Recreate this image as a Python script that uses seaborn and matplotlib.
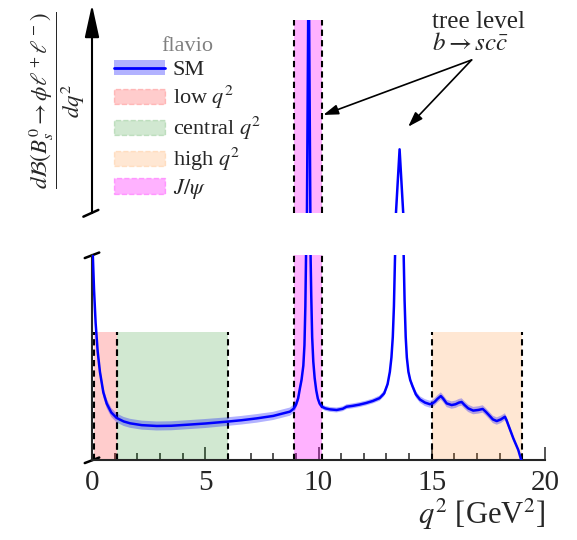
import numpy as np
import pandas as pd
import matplotlib
matplotlib.use("Agg")
import matplotlib.pyplot as plt
from matplotlib.patches import Patch
from matplotlib.lines import Line2D
from matplotlib.legend_handler import HandlerTuple
import seaborn as sns

sns.set_style("ticks")
plt.rcParams["font.family"] = ["Liberation Serif", "DejaVu Serif"]
plt.rcParams["mathtext.fontset"] = "stix"

# ---------------- data ----------------
q2 = [0.02, 0.09, 0.16, 0.25, 0.35, 0.5, 0.65, 0.85, 1.09, 1.4, 1.68, 2.2,
      2.86, 3.5, 4.33, 5.0, 5.95, 6.6, 7.27, 8.0, 8.74, 8.9, 9.0, 9.1, 9.18,
      9.25, 9.33, 9.38, 9.42, 9.45, 9.49, 9.565, 9.64, 9.65, 9.68, 9.72,
      9.77, 9.83, 9.9, 9.97, 10.05, 10.15, 10.3, 10.5, 10.8, 11.07, 11.24,
      11.5, 11.8, 12.1, 12.4, 12.7, 12.9, 13.05, 13.15, 13.22, 13.28, 13.33,
      13.38, 13.42, 13.58, 13.74, 13.76, 13.80, 13.85, 13.9, 13.97, 14.05,
      14.15, 14.3, 14.48, 14.7, 14.92, 15.05, 15.14, 15.25, 15.4, 15.5,
      15.66, 15.88, 16.05, 16.2, 16.32, 16.45, 16.61, 16.83, 17.05, 17.25,
      17.38, 17.5, 17.7, 17.87, 18.05, 18.23, 18.3, 18.38, 18.6, 18.82, 18.95]
dbr = [1.05, 0.83, 0.668, 0.53, 0.43, 0.33, 0.275, 0.232, 0.205, 0.188, 0.179, 0.170,
       0.166, 0.167, 0.173, 0.178, 0.187, 0.194, 0.203, 0.215, 0.236, 0.25, 0.268, 0.30, 0.35,
       0.39, 0.46, 0.56, 0.75, 1.0, 2.0, 16.0, 2.0, 1.0, 0.80, 0.60,
       0.48, 0.40, 0.34, 0.30, 0.275, 0.26, 0.252, 0.247, 0.244, 0.25, 0.26,
       0.264, 0.27, 0.278, 0.288, 0.302, 0.325, 0.37, 0.43, 0.50, 0.60, 0.75,
       1.0, 2.0, 5.3, 2.0, 1.0, 0.78, 0.60, 0.50, 0.43, 0.39,
       0.36, 0.32, 0.295, 0.28, 0.272, 0.277, 0.285, 0.298, 0.312, 0.300,
       0.276, 0.268, 0.272, 0.28, 0.283, 0.268, 0.252, 0.241, 0.244, 0.249,
       0.236, 0.222, 0.198, 0.19, 0.198, 0.211, 0.195, 0.171, 0.106, 0.049, 0.0]
err = [0.03, 0.03, 0.03, 0.028, 0.026, 0.024, 0.023, 0.022, 0.022, 0.022, 0.022, 0.022,
       0.022, 0.022, 0.022, 0.022, 0.021, 0.021, 0.021, 0.02, 0.02, 0.02, 0.02, 0.02, 0.02,
       0.02, 0.02, 0.02, 0.02, 0.02, 0.0, 0.0, 0.0, 0.02, 0.02, 0.02,
       0.018, 0.016, 0.014, 0.013, 0.012, 0.012, 0.012, 0.012, 0.012, 0.012, 0.012,
       0.012, 0.012, 0.012, 0.012, 0.013, 0.014, 0.015, 0.015, 0.015, 0.015, 0.015,
       0.015, 0.0, 0.0, 0.0, 0.015, 0.015, 0.015, 0.015, 0.015, 0.015,
       0.015, 0.016, 0.016, 0.017, 0.017, 0.018, 0.018, 0.018, 0.018, 0.018,
       0.018, 0.018, 0.018, 0.018, 0.018, 0.018, 0.018, 0.018, 0.018, 0.018,
       0.018, 0.018, 0.018, 0.018, 0.018, 0.017, 0.016, 0.015, 0.012, 0.008, 0.004]

bin_names = ["low $q^2$", "central $q^2$", "high $q^2$", "$J/\\psi$"]
bin_lo = [0.1, 1.1, 15.0, 8.9]
bin_hi = [1.1, 6.0, 18.97, 10.15]
bin_colors = ["red", "green", "tab:orange", "magenta"]
bin_alpha = [0.2, 0.18, 0.18, 0.3]
box_top = 0.624

xticks_major = [0, 5, 10, 15, 20]

df = pd.DataFrame({"q2": q2, "dBR": dbr, "err": err})
df["lo"] = df["dBR"] - df["err"]
df["hi"] = df["dBR"] + df["err"]

# ---------------- figure ----------------
W, H = 577, 540
fig = plt.figure(figsize=(W / 100, H / 100), dpi=100)

def fx(px):
    return px / W

def fy(py):
    return 1 - py / H

x0, x1 = 92, 545
ax_bot = fig.add_axes([fx(x0), fy(460), fx(x1) - fx(x0), fy(255) - fy(460)])
ax_top = fig.add_axes([fx(x0), fy(213), fx(x1) - fx(x0), fy(20) - fy(213)])

for ax in (ax_bot, ax_top):
    ax.fill_between(df["q2"], df["lo"], df["hi"], color="blue", alpha=0.3,
                    lw=0, zorder=3)
    sns.lineplot(data=df, x="q2", y="dBR", ax=ax, color="blue", lw=1.8,
                 zorder=4, sort=False)
    ax.set_xlim(0, 20)
    ax.set_xlabel("")
    ax.set_ylabel("")
    for s in ("top", "right"):
        ax.spines[s].set_visible(False)

# J/psi band in both panels
jlo, jhi = bin_lo[3], bin_hi[3]
for ax in (ax_bot, ax_top):
    ax.axvspan(jlo, jhi, facecolor=bin_colors[3], alpha=bin_alpha[3], lw=0, zorder=1)
    for xv in (jlo, jhi):
        ax.axvline(xv, color="k", ls=(0, (3, 2)), lw=1.5, zorder=2)

# other bins in bottom panel
for i in range(3):
    ax_bot.axvspan(bin_lo[i], bin_hi[i], ymin=0, ymax=box_top,
                   facecolor=bin_colors[i], alpha=bin_alpha[i], lw=0, zorder=1)
    ax_bot.vlines([bin_lo[i], bin_hi[i]], 0, box_top, colors="k",
                  linestyles=(0, (3, 2)), lw=1.5, zorder=2)

ax_bot.set_ylim(0, 1)
ax_top.set_ylim(2, 12)

# bottom axes styling
ax_bot.spines["left"].set_linewidth(1.5)
ax_bot.spines["bottom"].set_linewidth(1.5)
ax_bot.set_yticks([])
ax_bot.set_xticks(xticks_major)
ax_bot.set_xticklabels([str(t) for t in xticks_major])
ax_bot.set_xticks(np.arange(0, 21, 1), minor=True)
ax_bot.tick_params(axis="x", which="major", direction="in", length=9.5,
                   width=1.1, labelsize=21, pad=7)
ax_bot.tick_params(axis="x", which="minor", direction="in", length=5, width=1.1)
ax_bot.set_xlabel("$q^2$ [GeV$^2$]", fontsize=22, loc="right", labelpad=1)

# top axes styling
ax_top.spines["left"].set_visible(False)
ax_top.spines["bottom"].set_visible(False)
ax_top.set_xticks([])
ax_top.set_yticks([])
ax_top.patch.set_alpha(0)

# arrowed y axis
ax_top.annotate("", xy=(0, 1.08), xycoords="axes fraction", xytext=(0, 0),
                textcoords="axes fraction",
                arrowprops=dict(arrowstyle="-|>,head_length=1.0,head_width=0.22",
                                color="k", lw=1.5, mutation_scale=20,
                                shrinkA=0, shrinkB=0), annotation_clip=False)

# break marks
kw = dict(color="k", lw=1.8, clip_on=False)
ax_top.plot([-0.019, 0.014], [-0.019, 0.016], transform=ax_top.transAxes, **kw)
ax_bot.plot([-0.016, 0.016], [-0.015, 0.012], transform=ax_bot.transAxes, **kw)
ax_bot.plot([-0.016, 0.016], [1 - 0.015, 1 + 0.012], transform=ax_bot.transAxes, **kw)

# y label
fig.text(fx(57), fy(100),
         r"$\dfrac{d\mathcal{B}(B_s^0\to\phi\ell^+\ell^-)}{dq^2}$",
         rotation=90, ha="center", va="center", fontsize=16.5)

# annotation
fig.text(fx(432), fy(28), "tree level", ha="left", va="baseline", fontsize=18)
fig.text(fx(432), fy(50), "$b\\to sc\\bar{c}$", ha="left", va="baseline", fontsize=18)
start = (16.76, 9.93)
for end in [(10.21, 7.08), (13.96, 6.47)]:
    ax_top.annotate("", xy=end, xytext=start, xycoords="data",
                    arrowprops=dict(arrowstyle="-|>,head_length=0.6,head_width=0.2",
                                    color="k", lw=1.2, mutation_scale=15,
                                    shrinkA=0, shrinkB=0), annotation_clip=False)

# legend
handles = [(Patch(facecolor="blue", alpha=0.3, lw=0),
            Line2D([], [], color="blue", lw=2))]
for i in range(4):
    handles.append(Patch(facecolor=bin_colors[i], alpha=bin_alpha[i],
                         edgecolor=bin_colors[i], ls="--", lw=1))
labels = ["SM"] + bin_names
leg = ax_top.legend(handles, labels, title="flavio", loc="upper left",
                    bbox_to_anchor=(0.029, 0.958), borderaxespad=0, frameon=False,
                    fontsize=16, title_fontsize=16, handlelength=2.3,
                    handleheight=0.7, handletextpad=0.35, labelspacing=0.17,
                    handler_map={tuple: HandlerTuple(ndivide=1, pad=0)})
leg.get_title().set_color("gray")

fig.savefig("out.png", dpi=100)
